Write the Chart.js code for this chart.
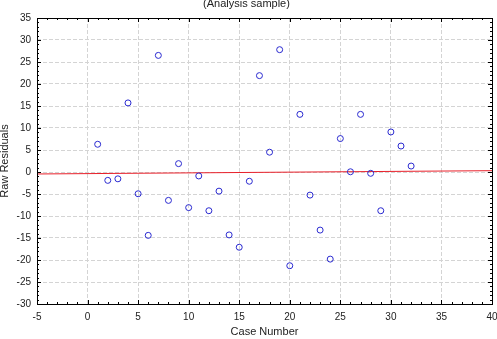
<!DOCTYPE html>
<html>
<head>
<meta charset="utf-8">
<script src="https://cdn.jsdelivr.net/npm/chart.js@4/dist/chart.umd.min.js"></script>
<style>
  html, body { margin: 0; padding: 0; background: #fff; }
  #wrap { width: 497px; height: 339px; }
</style>
</head>
<body>
<div id="wrap"><canvas id="c" width="497" height="339"></canvas></div>
<script>
// Case numbers and raw residuals
const caseNumbers = [1,2,3,4,5,6,7,8,9,10,11,12,13,14,15,16,17,18,19,20,21,22,23,24,25,26,27,28,29,30,31,32];
const rawResiduals = [6.3,-1.9,-1.55,15.7,-4.95,-14.4,26.5,-6.45,1.9,-8.1,-0.9,-8.8,-4.35,-14.3,-17.1,-2.1,21.9,4.5,27.8,-21.3,13.1,-5.25,-13.2,-19.8,7.6,0.05,13.1,-0.3,-8.8,9.1,5.9,1.35];
// Fitted line endpoints
const fitX = [-5, 40];
const fitY = [-0.45, 0.3];
// Axis settings
const xRange = [-5, 40];
const yRange = [-30, 35];
const tickStep = 5;

const scatterData = caseNumbers.map((x, i) => ({ x: x, y: rawResiduals[i] }));
const fitData = fitX.map((x, i) => ({ x: x, y: fitY[i] }));

const FONT = "'Liberation Sans', Arial, sans-serif";

const framePlugin = {
  id: 'frame',
  afterDatasetsDraw(chart) {
    const { ctx, chartArea: a, scales } = chart;
    const xs = scales.x, ys = scales.y;
    ctx.save();
    ctx.strokeStyle = '#000';
    ctx.lineWidth = 1;
    ctx.beginPath();
    for (let v = xRange[0]; v <= xRange[1]; v += 1) {
      const px = Math.round(xs.getPixelForValue(v)) + 0.5;
      const len = (v % 5 === 0) ? 4 : 2;
      ctx.moveTo(px, a.bottom); ctx.lineTo(px, a.bottom - len);
      ctx.moveTo(px, a.top); ctx.lineTo(px, a.top + len);
    }
    for (let v = yRange[0]; v <= yRange[1]; v += 1) {
      const py = Math.round(ys.getPixelForValue(v)) + 0.5;
      const len = (v % 5 === 0) ? 4 : 2;
      ctx.moveTo(a.left, py); ctx.lineTo(a.left + len, py);
      ctx.moveTo(a.right, py); ctx.lineTo(a.right - len, py);
    }
    ctx.stroke();
    ctx.strokeRect(Math.round(a.left) + 0.5, Math.round(a.top) + 0.5,
                   Math.round(a.right - a.left), Math.round(a.bottom - a.top));
    ctx.restore();
  }
};

new Chart(document.getElementById('c'), {
  type: 'scatter',
  data: {
    datasets: [
      {
        label: 'Raw Residuals',
        data: scatterData,
        pointStyle: 'circle',
        pointRadius: 3,
        pointBorderWidth: 1,
        borderColor: '#2a2ad0',
        backgroundColor: 'rgba(0,0,0,0)',
        order: 1
      },
      {
        type: 'line',
        label: 'Fit',
        data: fitData,
        borderColor: '#e8202a',
        borderWidth: 1,
        pointRadius: 0,
        fill: false,
        order: 2
      }
    ]
  },
  options: {
    responsive: false,
    animation: false,
    devicePixelRatio: 1,
    layout: { padding: { top: 0, right: 4, left: 0, bottom: 0 } },
    plugins: {
      legend: { display: false },
      tooltip: { enabled: false },
      title: {
        display: true,
        text: '(Analysis sample)',
        color: '#222',
        font: { family: FONT, size: 11, weight: 'normal' },
        padding: { top: -2.5, bottom: 7.3 }
      }
    },
    scales: {
      x: {
        type: 'linear',
        min: xRange[0], max: xRange[1],
        afterFit(s) { s.height = 35; s.paddingLeft = 0; s.paddingRight = 0; },
        border: { display: false, dash: [4, 2] },
        grid: { color: '#d4d4d4', drawTicks: false, lineWidth: 1 },
        ticks: { stepSize: tickStep, padding: 7, color: '#222', font: { family: FONT, size: 10 } },
        title: { display: true, text: 'Case Number', color: '#222', font: { family: FONT, size: 11 }, padding: { top: 0, bottom: 0 } }
      },
      y: {
        type: 'linear',
        min: yRange[0], max: yRange[1],
        afterFit(s) { s.width = 37; s.paddingTop = 0; s.paddingBottom = 0; },
        border: { display: false, dash: [4, 2] },
        grid: { color: '#d4d4d4', drawTicks: false, lineWidth: 1 },
        ticks: { stepSize: tickStep, padding: 6, color: '#222', font: { family: FONT, size: 10 } },
        title: { display: true, text: 'Raw Residuals', color: '#222', font: { family: FONT, size: 11 }, padding: { top: -1.5, bottom: 0 } }
      }
    }
  },
  plugins: [framePlugin]
});
</script>
</body>
</html>
